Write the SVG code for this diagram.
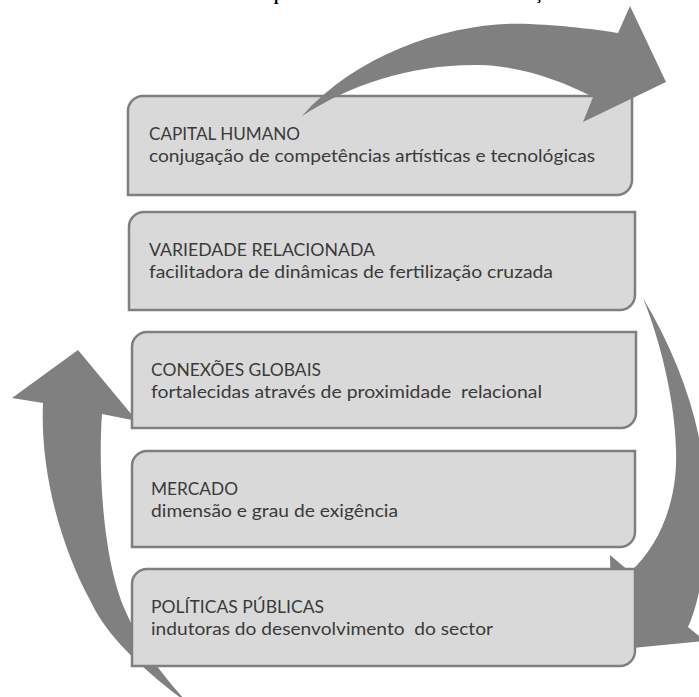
<svg xmlns="http://www.w3.org/2000/svg" width="699" height="697" viewBox="0 0 699 697">
<style>
.box{fill:#d9d9d9;stroke:#7f7f7f;stroke-width:2.5}
.arrow{fill:#808080;stroke:none}
.t{font-family:Lato,"Liberation Sans",sans-serif;font-size:17px;fill:#3a3a3a;white-space:pre}
.title{font-family:"Liberation Serif",serif;font-weight:bold;font-size:16px;fill:#000}
</style>
<rect width="699" height="697" fill="#fff"/>
<text class="title" x="274" y="0">p</text>
<text class="title" x="535" y="-1">ç</text>
<g id="connectors-back">
<path id="arrow-left" class="arrow" d="M78,350 L137,421 L102,414 C98,470 103,560 125,610 C140,645 165,680 190,705 C150,675 108,640 90,600 C60,545 40,470 43,403 L12,398 Z"/>
<path id="arrow-right" class="arrow" d="M643,298 C680,360 705,430 706,500 C707,560 700,600 688,627 L705,641 L612,650 L610,555 L630,572 C660,545 678,500 676,450 C675,400 660,340 643,298 Z"/>
</g>
<g id="node-capital">
<path class="box" d="M128,111 A15,15 0 0 1 143,96 H632 V180 A15,15 0 0 1 617,195 H128 Z"/>
<text class="t" x="149" y="140" textLength="151" lengthAdjust="spacingAndGlyphs">CAPITAL HUMANO</text>
<text class="t" x="149" y="162" textLength="446" lengthAdjust="spacingAndGlyphs">conjugação de competências artísticas e tecnológicas</text>
</g>
<g id="node-variedade">
<path class="box" d="M129,227 A15,15 0 0 1 144,212 H635 V295 A15,15 0 0 1 620,310 H129 Z"/>
<text class="t" x="149" y="256" textLength="226" lengthAdjust="spacingAndGlyphs">VARIEDADE RELACIONADA</text>
<text class="t" x="149" y="278" textLength="404" lengthAdjust="spacingAndGlyphs">facilitadora de dinâmicas de fertilização cruzada</text>
</g>
<g id="node-conexoes">
<path class="box" d="M132,347 A15,15 0 0 1 147,332 H636 V413 A15,15 0 0 1 621,428 H132 Z"/>
<text class="t" x="151" y="376" textLength="170" lengthAdjust="spacingAndGlyphs">CONEXÕES GLOBAIS</text>
<text class="t" x="151" y="398" textLength="391" lengthAdjust="spacingAndGlyphs">fortalecidas através de proximidade  relacional</text>
</g>
<g id="node-mercado">
<path class="box" d="M132,466 A15,15 0 0 1 147,451 H635 V532 A15,15 0 0 1 620,547 H132 Z"/>
<text class="t" x="151" y="495" textLength="87" lengthAdjust="spacingAndGlyphs">MERCADO</text>
<text class="t" x="151" y="517" textLength="247" lengthAdjust="spacingAndGlyphs">dimensão e grau de exigência</text>
</g>
<g id="node-politicas">
<path class="box" d="M132,584 A15,15 0 0 1 147,569 H635 V651 A15,15 0 0 1 620,666 H132 Z"/>
<text class="t" x="151" y="613" textLength="173" lengthAdjust="spacingAndGlyphs">POLÍTICAS PÚBLICAS</text>
<text class="t" x="151" y="635" textLength="342" lengthAdjust="spacingAndGlyphs">indutoras do desenvolvimento  do sector</text>
</g>
<g id="connectors-front">
<path id="arrow-top" class="arrow" d="M302,116 C360,50 460,20 530,24 C570,26 600,30 618,33 L630,6 L666,82 L583,122 L593,97 C560,80 520,66 480,65 C410,64 350,85 302,116 Z"/>
</g>
</svg>
